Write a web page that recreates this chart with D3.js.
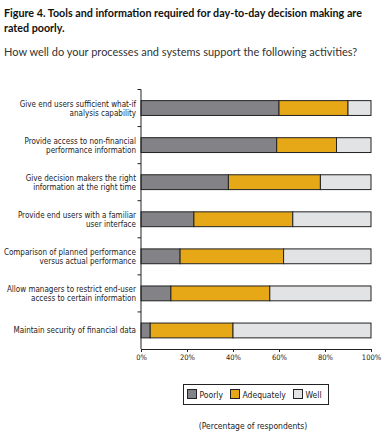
<!DOCTYPE html>
<html><head><meta charset="utf-8">
<script src="https://cdn.jsdelivr.net/npm/d3@7"></script>
<style>body{margin:0;background:#fff}</style>
</head><body>
<svg id="c" width="384" height="434"></svg>
<script>
const categories = [
  ["Give end users sufficient what-if","analysis capability"],
  ["Provide access to non-financial","performance information"],
  ["Give decision makers the right","information at the right time"],
  ["Provide end users with a familiar","user interface"],
  ["Comparison of planned performance","versus actual performance"],
  ["Allow managers to restrict end-user","access to certain information"],
  ["Maintain security of financial data"]
];
const poorly     = [60, 59, 38, 23, 17, 13, 4];
const adequately = [30, 26, 40, 43, 45, 43, 36];
const well       = [10, 15, 22, 34, 38, 44, 60];
const seriesNames = ["Poorly","Adequately","Well"];
const colors = ["#838387","#e7a817","#e2e3e5"];
const xTicks = [0,20,40,60,80,100];

const svg = d3.select("#c");
const font = "'Liberation Sans Narrow','DejaVu Sans Condensed',sans-serif";
const tfont = "Lato,'Open Sans',sans-serif";

// shrink font size so the text fits a given width
function fitText(sel, w){
  const fs = +sel.attr("font-size");
  const len = sel.node().getComputedTextLength();
  if (len > w) sel.attr("font-size", (fs * w / len).toFixed(2));
  return sel;
}

const t1 = svg.append("text").attr("x",4).attr("y",16.5).attr("font-family",tfont).attr("font-weight","bold")
  .attr("font-size",11.5).attr("fill","#111").text("Figure 4.  Tools and information required for day-to-day decision making are");
fitText(t1, 358);
svg.append("text").attr("x",4).attr("y",32).attr("font-family",tfont).attr("font-weight","bold")
  .attr("font-size",t1.attr("font-size")).attr("fill","#111").text("rated poorly.");
fitText(svg.append("text").attr("x",4).attr("y",56).attr("font-family",tfont)
  .attr("font-size",11).attr("fill","#333").text("How well do your processes and systems support the following activities?"), 355);

const x = d3.scaleLinear().domain([0,100]).range([141,371]);
const y = d3.scaleBand().domain(d3.range(categories.length)).range([89.5,349]).paddingInner(0.6).paddingOuter(0.3);

const stackData = categories.map((c,i)=>({i, Poorly:poorly[i], Adequately:adequately[i], Well:well[i]}));
const stack = d3.stack().keys(seriesNames)(stackData);

const g = svg.append("g");
stack.forEach((s,k)=>{
  g.selectAll(null).data(s).enter().append("rect")
    .attr("x",d=>x(d[0])).attr("width",d=>x(d[1])-x(d[0]))
    .attr("y",d=>y(d.data.i)).attr("height",y.bandwidth())
    .attr("fill",colors[k]).attr("stroke","#222").attr("stroke-width",1);
});

// y axis with ticks between categories
const yAxisG = svg.append("g");
yAxisG.append("line").attr("x1",141).attr("x2",141).attr("y1",89.5).attr("y2",349).attr("stroke","#222");
d3.range(categories.length).forEach(i=>{
  const yy = 89.5 + i*(349-89.5)/categories.length;
  yAxisG.append("line").attr("x1",137.5).attr("x2",141).attr("y1",yy).attr("y2",yy).attr("stroke","#222");
});
// labels
categories.forEach((lines,i)=>{
  const cy = y(i)+y.bandwidth()/2;
  const n = lines.length;
  lines.forEach((t,j)=>{
    const tx = svg.append("text").attr("x",136).attr("y",cy + (j-(n-1)/2)*9 + 3)
      .attr("text-anchor","end").attr("font-family",font).attr("font-size",8).attr("fill","#222").text(t);
    fitText(tx, 132);
  });
});

// x axis
const xAxis = d3.axisBottom(x).tickValues(xTicks).tickFormat(d=>d+"%").tickSize(3).tickSizeOuter(0);
const xg = svg.append("g").attr("transform","translate(0,349)").call(xAxis);
xg.select(".domain").attr("stroke","#222");
xg.selectAll(".tick line").attr("stroke","#222");
xg.selectAll("text").attr("font-family",font).attr("font-size",7.5).attr("fill","#222").attr("dy","0.6em");

// legend
const lg = svg.append("g");
lg.append("rect").attr("x",183.5).attr("y",384.5).attr("width",145).attr("height",20).attr("fill","#fff").attr("stroke","#222");
const lx = [187.5,230.5,293.5];
seriesNames.forEach((n,k)=>{
  lg.append("rect").attr("x",lx[k]).attr("y",389.5).attr("width",9).attr("height",9).attr("fill",colors[k]).attr("stroke","#222");
  lg.append("text").attr("x",lx[k]+12).attr("y",397.5).attr("font-family",font).attr("font-size",8.5).attr("fill","#222").text(n);
});

svg.append("text").attr("x",253).attr("y",429).attr("text-anchor","middle").attr("font-family",font)
  .attr("font-size",8.5).attr("fill","#222").text("(Percentage of respondents)");
</script>
</body></html>
